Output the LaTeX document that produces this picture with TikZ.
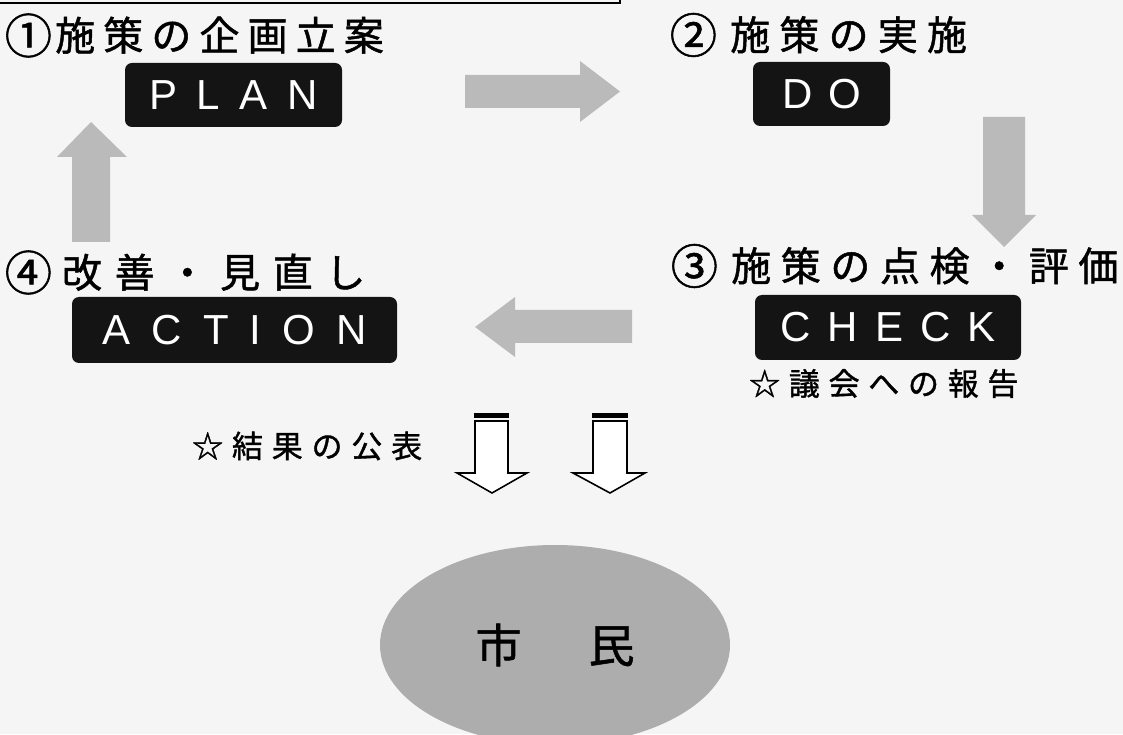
\documentclass[tikz,border=0pt]{standalone}
\usepackage{fontspec}
\newfontfamily\jp{Noto Sans CJK JP}[FakeBold=1.2]
\newfontfamily\lat{Liberation Sans}
\usetikzlibrary{shapes.geometric}
\ExplSyntaxOn
\NewDocumentCommand\spread{mm}{\tl_map_inline:nn {#2}{##1\hspace{#1}}}
\ExplSyntaxOff
\newcommand\circnum[2]{\raisebox{-3pt}{\scalebox{1.18}{#1}}\hspace{#2}}
\begin{document}
\begin{tikzpicture}[x=1pt,y=1pt,
  title/.style={anchor=west,inner sep=0pt,font=\jp\fontsize{40}{48}\selectfont},
  small/.style={anchor=west,inner sep=0pt,font=\jp\fontsize{31}{37}\selectfont},
  blackbox/.style={fill=black!92,rounded corners=7pt,inner sep=0pt,text=white,
    font=\lat\fontsize{42}{50}\selectfont},
  grayarrow/.style={fill=black!27,draw=none},
  openarrow/.style={draw=black,line width=1.6pt,fill=white,line join=miter},
  citizen/.style={ellipse,fill=black!32,draw=none,minimum width=350pt,minimum height=200pt,
    inner sep=0pt,font=\jp\fontsize{46}{54}\selectfont}]
\useasboundingbox (0,0) rectangle (1123,734);
\fill[black!4] (0,0) rectangle (1123,734);
% top rule
\draw[line width=2.5pt] (0,731) -- (620,731) -- (620,736);
% titles
\node[title] (t1) at (4.6,698.5) {\circnum{①}{3.2pt}\spread{8.1pt}{施策の企画立案}};
\node[title] (t2) at (669.6,699) {\circnum{②}{13.2pt}\spread{9.2pt}{施策の実施}};
\node[title] (t3) at (670.6,468) {\circnum{③}{13.2pt}\spread{9.6pt}{施策の点検・評価}};
\node[title] (t4) at (4.6,461.5) {\circnum{④}{10pt}\spread{12.7pt}{改善・見直し}};
% black boxes
\node[blackbox,minimum width=217pt,minimum height=64pt] (plan) at (233.5,639) {\spread{19.5pt}{PLAN}};
\node[blackbox,minimum width=137pt,minimum height=64pt] (do) at (821.5,640) {\spread{16pt}{DO}};
\node[blackbox,minimum width=266pt,minimum height=65pt] (check) at (888,406.5) {\spread{17pt}{CHECK}};
\node[blackbox,minimum width=325pt,minimum height=66pt] (action) at (234.5,404) {\spread{21pt}{ACTION}};
% small labels
\node[small] (gikai) at (749,350.5) {\spread{8.7pt}{☆議会への報告}};
\node[small] (kohyo) at (192,288) {\spread{8.8pt}{☆結果の公表}};
% gray block arrows
\fill[grayarrow] (465,626) -- (580,626) -- (580,612) -- (620,642.5) -- (580,673) -- (580,659) -- (465,659) -- cycle;
\fill[grayarrow] (983,617) -- (983,519) -- (972,519) -- (1004,487) -- (1036,519) -- (1025,519) -- (1025,617) -- cycle;
\fill[grayarrow] (632,391) -- (515,391) -- (515,377) -- (475,407) -- (515,437) -- (515,424) -- (632,424) -- cycle;
\fill[grayarrow] (72,492) -- (72,577) -- (57,577) -- (91,612) -- (127,577) -- (110,577) -- (110,492) -- cycle;
% open down arrows
\draw[openarrow] (475,313) -- (475,261) -- (457,261) -- (492,241) -- (527,261) -- (508,261) -- (508,313);
\fill (474.2,321) rectangle (508.8,316);
\draw[line width=1.6pt] (474.2,313) -- (508.8,313);
\draw[openarrow] (593,313) -- (593,261) -- (573,261) -- (610,241) -- (645,261) -- (627,261) -- (627,313);
\fill (592.2,321) rectangle (627.8,316);
\draw[line width=1.6pt] (592.2,313) -- (627.8,313);
% citizens
\node[citizen] (shimin) at (555,89) {市\hspace{67pt}民};
\end{tikzpicture}
\end{document}
